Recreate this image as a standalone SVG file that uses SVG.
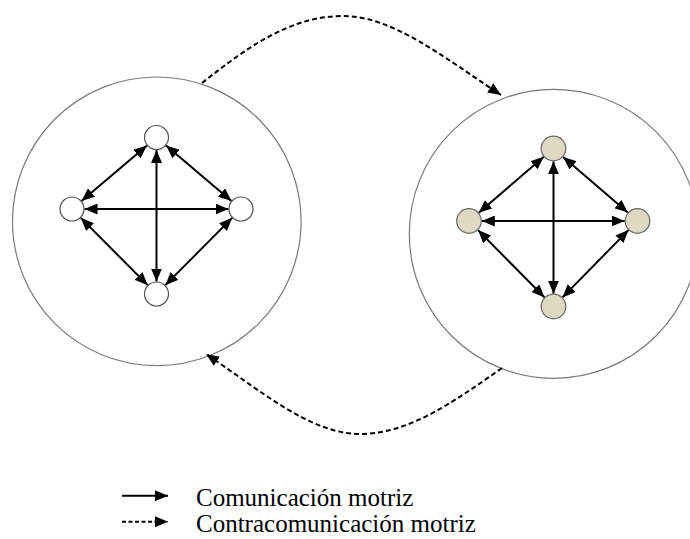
<svg xmlns="http://www.w3.org/2000/svg" width="690" height="539" viewBox="0 0 690 539">
  <style>
    .group { fill: #ffffff; stroke: #7a7a7a; stroke-width: 1.2; }
    .node-a { fill: #ffffff; stroke: #555555; stroke-width: 1.2; }
    .node-b { fill: #ddd9c3; stroke: #666666; stroke-width: 1.2; }
    .link { stroke: #000000; stroke-width: 2; fill: none; marker-start: url(#head); marker-end: url(#head); }
    .flow { stroke: #000000; stroke-width: 2; fill: none; stroke-dasharray: 5 3; marker-end: url(#head); }
    .legend-solid { stroke: #000000; stroke-width: 2; fill: none; marker-end: url(#head); }
    .legend-dash { stroke: #000000; stroke-width: 2; fill: none; stroke-dasharray: 4 2.5; marker-end: url(#head); }
  </style>
  <defs>
    <marker id="head" markerUnits="userSpaceOnUse" markerWidth="14" markerHeight="11" refX="13" refY="5.5" orient="auto-start-reverse">
      <path d="M0,0 L13,5.5 L0,11 z" fill="#000000"/>
    </marker>
  </defs>

  <!-- the two team circles -->
  <g id="team-left">
    <circle class="group" cx="156.8" cy="221.3" r="144.3"/>
  </g>
  <g id="team-right">
    <circle class="group" cx="553.8" cy="233.8" r="144.5"/>
  </g>

  <!-- connectors -->
  <g id="connectors">
    <!-- left network -->
    <line class="link" x1="146.96" y1="145.57" x2="81.54" y2="200.93"/>
    <line class="link" x1="166.04" y1="145.57" x2="231.46" y2="200.93"/>
    <line class="link" x1="80.81" y1="217.86" x2="147.69" y2="285.14"/>
    <line class="link" x1="232.19" y1="217.86" x2="165.31" y2="285.14"/>
    <line class="link" x1="84.5" y1="209" x2="228.5" y2="209"/>
    <line class="link" x1="156.5" y1="150" x2="156.5" y2="281.5"/>
    <!-- right network -->
    <line class="link" x1="543.8" y1="156.8" x2="478.7" y2="212.7"/>
    <line class="link" x1="563.2" y1="156.9" x2="627.8" y2="212.6"/>
    <line class="link" x1="478.0" y1="230.1" x2="544.5" y2="297.4"/>
    <line class="link" x1="628.5" y1="230.1" x2="562.5" y2="297.4"/>
    <line class="link" x1="481.8" y1="221" x2="624.7" y2="221"/>
    <line class="link" x1="553.5" y1="161.3" x2="553.5" y2="293.7"/>
    <!-- exchanges between the two teams -->
    <path class="flow" d="M202,83 C250,45 292,16 343,16 C392,16 442,56 501,95"/>
    <path class="flow" d="M502,368 C456,400 410,434 360,434 C310,434 260,390 206,354"/>
  </g>

  <!-- left team players -->
  <g id="left-top"><circle class="node-a" cx="156.5" cy="137.5" r="12"/></g>
  <g id="left-left"><circle class="node-a" cx="72" cy="209" r="12"/></g>
  <g id="left-right"><circle class="node-a" cx="241" cy="209" r="12"/></g>
  <g id="left-bottom"><circle class="node-a" cx="156.5" cy="294" r="12"/></g>

  <!-- right team players -->
  <g id="right-top"><circle class="node-b" cx="553.5" cy="148.5" r="12.3"/></g>
  <g id="right-left"><circle class="node-b" cx="469" cy="221" r="12.3"/></g>
  <g id="right-right"><circle class="node-b" cx="637.5" cy="221" r="12.3"/></g>
  <g id="right-bottom"><circle class="node-b" cx="553.5" cy="306.5" r="12.3"/></g>

  <!-- legend -->
  <g id="legend">
    <line class="legend-solid" x1="122" y1="495.7" x2="168" y2="495.7"/>
    <line class="legend-dash" x1="122" y1="521.7" x2="168" y2="521.7"/>
    <text x="196" y="506" font-family="'Liberation Serif', 'Times New Roman', 'DejaVu Serif', serif" font-size="25" fill="#000000">Comunicación motriz</text>
    <text x="196" y="532" font-family="'Liberation Serif', 'Times New Roman', 'DejaVu Serif', serif" font-size="25" fill="#000000">Contracomunicación motriz</text>
  </g>
</svg>
